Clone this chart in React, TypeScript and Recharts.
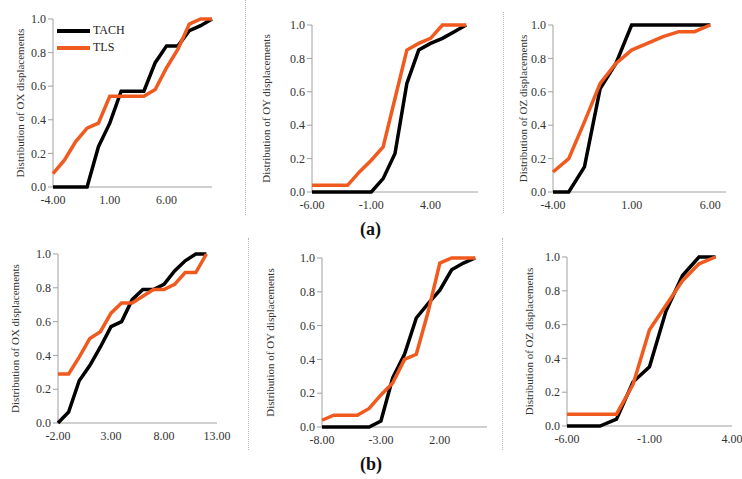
import React from 'react'
import { LineChart, Line, XAxis, YAxis, Legend } from 'recharts'

// (a) row
const xOXa = [-4, -3, -2, -1, 0, 1, 2, 3, 4, 5, 6, 7, 8, 9, 10]
const tachOXa = [0, 0, 0, 0, 0.24, 0.38, 0.57, 0.57, 0.57, 0.74, 0.84, 0.84, 0.93, 0.96, 1.0]
const tlsOXa = [0.08, 0.16, 0.27, 0.35, 0.38, 0.54, 0.54, 0.54, 0.54, 0.58, 0.71, 0.82, 0.97, 1.0, 1.0]

const xOYa = [-6, -5, -4, -3, -2, -1, 0, 1, 2, 3, 4, 5, 6, 7]
const tachOYa = [0, 0, 0, 0, 0, 0, 0.08, 0.23, 0.65, 0.85, 0.89, 0.92, 0.96, 1.0]
const tlsOYa = [0.04, 0.04, 0.04, 0.04, 0.12, 0.19, 0.27, 0.56, 0.85, 0.89, 0.92, 1.0, 1.0, 1.0]

const xOZa = [-4, -3, -2, -1, 0, 1, 2, 3, 4, 5, 6]
const tachOZa = [0, 0, 0.15, 0.62, 0.77, 1, 1, 1, 1, 1, 1]
const tlsOZa = [0.12, 0.2, 0.42, 0.65, 0.77, 0.85, 0.89, 0.93, 0.96, 0.96, 1.0]

// (b) row
const xOXb = [-2, -1, 0, 1, 2, 3, 4, 5, 6, 7, 8, 9, 10, 11, 12]
const tachOXb = [0, 0.065, 0.25, 0.34, 0.45, 0.57, 0.6, 0.73, 0.79, 0.79, 0.82, 0.9, 0.96, 1.0, 1.0]
const tlsOXb = [0.29, 0.29, 0.39, 0.5, 0.54, 0.65, 0.71, 0.71, 0.75, 0.79, 0.79, 0.82, 0.89, 0.89, 1.0]

const xOYb = [-8, -7, -6, -5, -4, -3, -2, -1, 0, 1, 2, 3, 4, 5]
const tachOYb = [0, 0, 0, 0, 0, 0.035, 0.29, 0.43, 0.645, 0.73, 0.81, 0.93, 0.97, 1.0]
const tlsOYb = [0.04, 0.07, 0.07, 0.07, 0.11, 0.19, 0.26, 0.4, 0.43, 0.68, 0.97, 1, 1, 1]

const xOZb = [-6, -5, -4, -3, -2, -1, 0, 1, 2, 3]
const tachOZb = [0, 0, 0, 0.04, 0.26, 0.35, 0.68, 0.89, 1, 1]
const tlsOZb = [0.07, 0.07, 0.07, 0.07, 0.245, 0.57, 0.715, 0.86, 0.96, 1]

const yTicks = [0, 0.2, 0.4, 0.6, 0.8, 1.0]

const FONT = '"Liberation Serif", "DejaVu Serif", serif'
const ORANGE = '#f05a1e'
const AXIS = '#a0a0a0'

const rows = (xs: number[], tach: number[], tls: number[]) =>
  xs.map((x, i) => ({ x, tach: tach[i], tls: tls[i] }))

const panels = [
  { data: rows(xOXa, tachOXa, tlsOXa), domain: [-4, 10], ticks: [-4, 1, 6], axis: 'OX', legend: true,
    left: 0, top: 0, w: 235, h: 222, pl: 53, pr: 212, pt: 19, pb: 187, lx: 20 },
  { data: rows(xOYa, tachOYa, tlsOYa), domain: [-6, 8], ticks: [-6, -1, 4], axis: 'OY',
    left: 250, top: 0, w: 245, h: 222, pl: 312, pr: 478, pt: 25, pb: 192, lx: 16 },
  { data: rows(xOZa, tachOZa, tlsOZa), domain: [-4, 7], ticks: [-4, 1, 6], axis: 'OZ',
    left: 505, top: 0, w: 237, h: 222, pl: 553, pr: 726, pt: 25, pb: 192, lx: 18 },
  { data: rows(xOXb, tachOXb, tlsOXb), domain: [-2, 13], ticks: [-2, 3, 8, 13], axis: 'OX',
    left: 0, top: 235, w: 240, h: 225, pl: 58, pr: 217, pt: 254, pb: 423, lx: 15 },
  { data: rows(xOYb, tachOYb, tlsOYb), domain: [-8, 6], ticks: [-8, -3, 2], axis: 'OY',
    left: 250, top: 235, w: 245, h: 225, pl: 322, pr: 487, pt: 258, pb: 427, lx: 20 },
  { data: rows(xOZb, tachOZb, tlsOZb), domain: [-6, 4], ticks: [-6, -1, 4], axis: 'OZ',
    left: 505, top: 235, w: 237, h: 225, pl: 567, pr: 732, pt: 257, pb: 426, lx: 24 },
]

const renderLegend = (props: any) => (
  <div>
    {(props.payload || []).map((p: any) => (
      <div key={p.value} style={{ display: 'flex', alignItems: 'center', height: 17 }}>
        <span style={{ display: 'inline-block', width: 33, height: 4, background: p.color, marginRight: 3 }} />
        <span style={{ fontFamily: FONT, fontSize: 12, color: '#222' }}>{p.value}</span>
      </div>
    ))}
  </div>
)

const separators = [
  { left: 245, top: 0, h: 215 },
  { left: 503, top: 12, h: 201 },
  { left: 248, top: 238, h: 212 },
  { left: 502, top: 238, h: 212 },
]

export default function App() {
  return (
    <div style={{ position: 'absolute', left: 0, top: 0, width: 742, height: 479, background: '#fff', overflow: 'hidden' }}>
      {separators.map((s, i) => (
        <div key={i} style={{ position: 'absolute', left: s.left, top: s.top, height: s.h, borderLeft: '1px dotted #b5b5b5' }} />
      ))}
      {panels.map((p, i) => (
        <div key={i} style={{ position: 'absolute', left: p.left, top: p.top }}>
          <LineChart
            width={p.w}
            height={p.h}
            data={p.data}
            margin={{ top: p.pt - p.top, right: p.left + p.w - p.pr, bottom: 0, left: 0 }}
          >
            <XAxis
              dataKey="x"
              type="number"
              domain={p.domain}
              ticks={p.ticks}
              interval={0}
              height={p.top + p.h - p.pb}
              tickLine={false}
              tickSize={6}
              tickMargin={2}
              axisLine={{ stroke: AXIS, strokeWidth: 1 }}
              tick={{ fontFamily: FONT, fontSize: 12, fill: '#333' }}
              tickFormatter={(v: number) => v.toFixed(2)}
            />
            <YAxis
              type="number"
              domain={[0, 1]}
              ticks={yTicks}
              interval={0}
              width={p.pl - p.left}
              tickSize={5}
              tickMargin={2}
              tickLine={{ stroke: AXIS }}
              axisLine={{ stroke: AXIS, strokeWidth: 1 }}
              tick={{ fontFamily: FONT, fontSize: 12, fill: '#333' }}
              tickFormatter={(v: number) => v.toFixed(1)}
              label={{
                value: `Distribution of ${p.axis} displacements`,
                angle: -90,
                position: 'insideLeft',
                offset: p.lx,
                style: { textAnchor: 'middle', fontFamily: FONT, fontSize: 11, fill: '#333' },
              }}
            />
            {p.legend && (
              <Legend
                content={renderLegend}
                layout="vertical"
                align="center"
                verticalAlign="middle"
                wrapperStyle={{ left: 57, top: 22, width: 'auto', height: 'auto' }}
              />
            )}
            <Line type="linear" dataKey="tach" name="TACH" stroke="#000" strokeWidth={3.5} dot={false} isAnimationActive={false} zIndex={1000} />
            <Line type="linear" dataKey="tls" name="TLS" stroke={ORANGE} strokeWidth={3.5} dot={false} isAnimationActive={false} zIndex={1001} />
          </LineChart>
        </div>
      ))}
      <div style={{ position: 'absolute', left: 360, top: 219, fontFamily: FONT, fontSize: 18, fontWeight: 'bold', color: '#111' }}>(a)</div>
      <div style={{ position: 'absolute', left: 360, top: 454, fontFamily: FONT, fontSize: 18, fontWeight: 'bold', color: '#111' }}>(b)</div>
    </div>
  )
}
